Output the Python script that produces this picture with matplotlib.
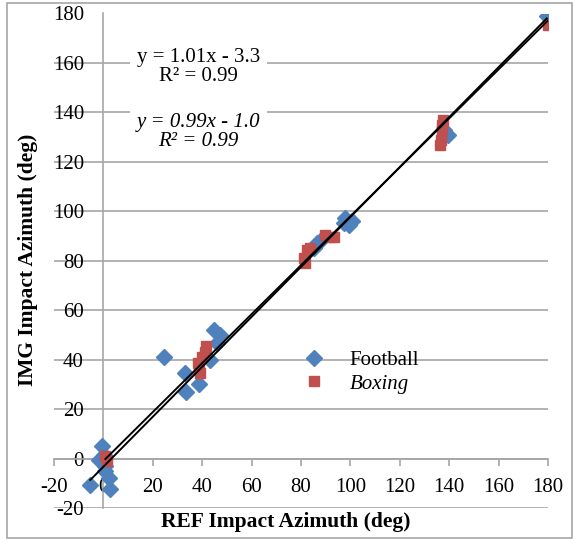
import matplotlib

matplotlib.use("Agg")
import matplotlib.pyplot as plt
import numpy as np
from matplotlib.patches import Rectangle

plt.rcParams["font.family"] = ["Liberation Serif", "DejaVu Serif"]

# football impacts: REF vs IMG azimuth (deg)
football_ref = [-0.5, -1.9, -5.3, 0.8, 2.1, 2.8, 0.8, 0.3,
                24.4, 33.2, 33.5, 38.6, 43.3, 44.7, 47.4, 46.0,
                85.1, 86.5, 87.9, 97.3, 98.0, 99.3, 100.7,
                138.0, 139.5, 179.5]
football_img = [5.0, -0.4, -10.5, -5.1, -7.8, -12.5, -3.1, 1.5,
                40.9, 34.6, 27.0, 30.3, 40.0, 51.8, 50.1, 46.7,
                85.1, 87.1, 88.5, 95.2, 97.3, 94.5, 95.9,
                133.0, 131.0, 178.8]

boxing_ref = [0.8, 1.5, 38.2, 38.6, 39.0, 40.0, 41.0, 41.6,
              81.1, 81.8, 82.5, 83.8, 89.9, 91.9, 93.2,
              136.4, 136.7, 137.1, 137.1, 137.5, 180.0]
boxing_img = [0.9, -1.1, 38.7, 36.0, 34.6, 41.0, 43.0, 45.4,
              81.1, 79.1, 84.4, 85.1, 90.5, 89.8, 89.8,
              126.9, 128.9, 132.9, 135.0, 137.0, 175.5]

# linear trendlines as reported on the chart
football_fit = (1.01, -3.3)
boxing_fit = (0.99, -1.0)

ticks = np.arange(-20, 181, 20)

BLUE = "#4F81BD"
RED = "#C0504D"
GRID = "#A6A6A6"
FS = 15

fig = plt.figure(figsize=(5.79, 5.42), dpi=100)
ax = fig.add_axes([54 / 579, 1 - 508 / 542, 494 / 579, 494.5 / 542])

ax.set_xlim(-20, 180)
ax.set_ylim(-20, 180)
ax.set_xticks(ticks)
ax.set_yticks(ticks)
ax.set_xticklabels([str(t) for t in ticks])
ax.set_yticklabels([str(t) for t in ticks])

ax.grid(axis="y", color=GRID, lw=1.2)
ax.set_axisbelow(True)
for side in ("top", "right"):
    ax.spines[side].set_visible(False)
ax.spines["left"].set_position(("data", 0))
ax.spines["bottom"].set_position(("data", 0))
for side in ("left", "bottom"):
    ax.spines[side].set_color(GRID)
    ax.spines[side].set_linewidth(1.2)

ax.tick_params(axis="x", direction="out", length=5, width=1.2, color=GRID,
               labelsize=FS, pad=9)
ax.tick_params(axis="y", length=0, labelsize=FS, pad=14)

ax.plot(football_ref, football_img, ls="none", marker="D", ms=8,
        color=BLUE, label="Football", zorder=3)
ax.plot(boxing_ref, boxing_img, ls="none", marker="s", ms=7.5,
        color=RED, label="Boxing", zorder=3)

for xs, (m, b) in ((football_ref, football_fit), (boxing_ref, boxing_fit)):
    xx = np.array([min(xs), max(xs)])
    ax.plot(xx, m * xx + b, color="black", lw=1.4, zorder=4)

bbox = dict(facecolor="white", edgecolor="none", pad=5)
ax.text(38.5, 158.5, "y = 1.01x - 3.3\nR² = 0.99", ha="center", va="center",
        fontsize=FS, linespacing=1.0, bbox=bbox, zorder=5)
ax.text(38.5, 132.2, "y = 0.99x - 1.0\nR² = 0.99", ha="center", va="center",
        fontsize=FS, style="italic", linespacing=1.0, bbox=bbox, zorder=5)

leg = ax.legend(loc="upper left", bbox_to_anchor=(0.447, 0.357), frameon=False,
                fontsize=FS, handletextpad=0.7, labelspacing=0.2, numpoints=1)
leg.get_texts()[1].set_style("italic")

fig.text(286 / 579, 1 - 522 / 542, "REF Impact Azimuth (deg)", ha="center",
         va="center", fontsize=15.5, fontweight="bold")
fig.text(28 / 579, 1 - 260 / 542, "IMG Impact Azimuth (deg)", ha="center",
         va="center", rotation=90, fontsize=15.5, fontweight="bold")

fig.patches.append(Rectangle((7 / 579, 1 - 538 / 542), 565 / 579, 535 / 542,
                             transform=fig.transFigure, fill=False,
                             edgecolor=GRID, lw=1.2))

fig.savefig("out.png", dpi=100)
